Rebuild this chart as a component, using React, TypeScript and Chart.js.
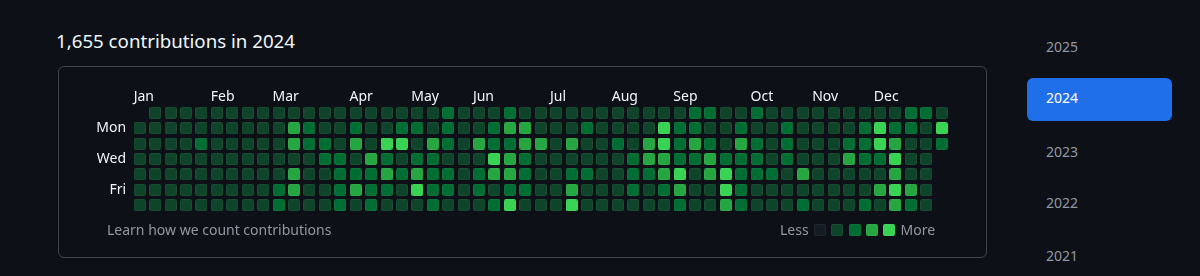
import React, { useEffect, useRef } from 'react';
import { Chart, registerables } from 'chart.js';

Chart.register(...registerables);

const TITLE = '1,655 contributions in 2024';
const FOOTER = 'Learn how we count contributions';
const MONTHS = ['Jan', 'Feb', 'Mar', 'Apr', 'May', 'Jun', 'Jul', 'Aug', 'Sep', 'Oct', 'Nov', 'Dec'];
const MONTH_WEEKS = [0, 5, 9, 14, 18, 22, 27, 31, 35, 40, 44, 48];
const DAY_LABELS = ['Sun', 'Mon', 'Tue', 'Wed', 'Thu', 'Fri', 'Sat'];
const DAY_TICKS = [1, 3, 5];
const YEARS = ['2025', '2024', '2023', '2022', '2021'];
const SELECTED_YEAR = '2024';
const LEVEL_COLORS = ['#151b23', '#0e4429', '#006d32', '#26a641', '#39d353'];
const LEVELS = [1, 2, 3, 4];

// contribution level per week (index 0..52) for each weekday; null = no day
const SUN = [null, 1, 1, 1, 1, 1, 1, 1, 1, 1, 1, 1, 1, 1, 1, 1, 1, 1, 1, 1, 2, 1, 1, 1, 2, 1, 1, 1, 1, 1, 1, 1, 1, 1, 1, 1, 2, 2, 1, 1, 2, 1, 1, 1, 1, 1, 1, 1, 1, 1, 2, 2, 1];
const MON = [1, 1, 1, 1, 1, 1, 1, 1, 1, 1, 3, 2, 1, 1, 2, 1, 1, 2, 2, 1, 2, 1, 1, 2, 3, 3, 1, 1, 1, 2, 1, 1, 1, 1, 4, 2, 2, 1, 1, 2, 1, 1, 2, 1, 1, 1, 1, 2, 4, 2, 2, 1, 4];
const TUE = [1, 1, 1, 1, 2, 1, 1, 1, 1, 1, 3, 2, 2, 1, 3, 1, 4, 4, 1, 3, 2, 1, 3, 2, 2, 3, 3, 1, 3, 1, 1, 2, 1, 3, 4, 2, 3, 2, 1, 3, 2, 1, 2, 1, 1, 1, 2, 2, 4, 3, 1, 1, 2];
const WED = [1, 1, 1, 1, 1, 1, 1, 1, 1, 1, 1, 1, 2, 2, 1, 3, 2, 1, 2, 2, 1, 1, 1, 4, 3, 2, 1, 1, 1, 1, 1, 1, 2, 3, 3, 2, 2, 3, 2, 2, 2, 1, 2, 1, 1, 1, 3, 2, 2, 4, 1, 1, null];
const THU = [1, 1, 1, 1, 1, 1, 1, 1, 1, 1, 3, 1, 1, 2, 2, 2, 3, 2, 3, 2, 2, 1, 2, 3, 3, 2, 1, 1, 2, 2, 1, 1, 2, 2, 3, 4, 1, 3, 4, 2, 2, 2, 1, 3, 1, 1, 1, 1, 1, 3, 1, 1, null];
const FRI = [1, 1, 1, 1, 1, 1, 1, 1, 1, 2, 3, 1, 1, 2, 3, 2, 2, 1, 4, 2, 2, 1, 2, 1, 2, 2, 1, 1, 3, 1, 1, 1, 2, 1, 2, 3, 1, 1, 4, 2, 1, 1, 1, 1, 1, 1, 1, 1, 3, 4, 3, 1, null];
const SAT = [1, 1, 1, 1, 1, 1, 1, 1, 1, 2, 1, 1, 1, 2, 1, 2, 1, 1, 1, 2, 1, 1, 1, 2, 4, 1, 1, 1, 4, 1, 1, 1, 1, 1, 1, 2, 1, 1, 3, 2, 1, 1, 1, 2, 1, 1, 1, 2, 1, 3, 2, 1, null];
const WEEKDAY_ROWS = [SUN, MON, TUE, WED, THU, FRI, SAT];

const FONT = "'Noto Sans', sans-serif";
const TEXT = '#f0f6fc';
const MUTED = '#9198a1';

function makeCell(color: string, size = 12, r = 2) {
  const c = document.createElement('canvas');
  c.width = size;
  c.height = size;
  const ctx = c.getContext('2d')!;
  ctx.fillStyle = color;
  ctx.beginPath();
  ctx.roundRect(0, 0, size, size, r);
  ctx.fill();
  ctx.strokeStyle = 'rgba(255,255,255,0.05)';
  ctx.lineWidth = 1;
  ctx.beginPath();
  ctx.roundRect(0.5, 0.5, size - 1, size - 1, r - 0.5);
  ctx.stroke();
  return c;
}

function Graph() {
  const ref = useRef<HTMLCanvasElement>(null);
  useEffect(() => {
    if (!ref.current) return;
    const datasets = LEVELS.map((level) => ({
      label: 'level ' + level,
      data: WEEKDAY_ROWS.flatMap((row, d) =>
        row
          .map((v, w) => (v === level ? { x: w, y: d } : null))
          .filter((p) => p !== null)
      ),
      pointStyle: makeCell(LEVEL_COLORS[level]),
      pointRadius: 6,
      pointHoverRadius: 6,
    }));
    const chart = new Chart(ref.current, {
      type: 'scatter',
      data: { datasets: datasets as any },
      options: {
        animation: false,
        responsive: false,
        devicePixelRatio: 1,
        events: [],
        layout: { padding: { left: 0, top: 0, right: 50.6, bottom: 17.1 } },
        plugins: { legend: { display: false }, tooltip: { enabled: false } },
        scales: {
          x: {
            type: 'linear',
            position: 'top',
            bounds: 'data',
            min: -0.5,
            max: 52.5,
            grid: { display: false, drawTicks: false },
            border: { display: false },
            afterBuildTicks: (s: any) => {
              s.ticks = MONTH_WEEKS.map((w) => ({ value: w - 0.4 }));
            },
            afterFit: (s: any) => {
              s.height = 105.1;
            },
            ticks: {
              autoSkip: false,
              maxRotation: 0,
              minRotation: 0,
              padding: 0,
              align: 'start',
              color: TEXT,
              font: { family: FONT, size: 14 },
              callback: (_v: any, i: number) => MONTHS[i],
            },
          },
          y: {
            type: 'linear',
            reverse: true,
            bounds: 'data',
            min: -0.5,
            max: 6.5,
            grid: { display: false, drawTicks: false },
            border: { display: false },
            afterBuildTicks: (s: any) => {
              s.ticks = DAY_TICKS.map((d) => ({ value: d }));
            },
            afterFit: (s: any) => {
              s.width = 132.1;
            },
            ticks: {
              padding: 6,
              color: TEXT,
              font: { family: FONT, size: 14 },
              callback: (v: any) => DAY_LABELS[v],
            },
          },
        },
      } as any,
    });
    return () => chart.destroy();
  }, []);
  return (
    <canvas
      ref={ref}
      width={1000}
      height={230}
      style={{ position: 'absolute', left: 0, top: 0, width: 1000, height: 230, display: 'block' }}
    />
  );
}

const abs = (left: number, top: number, size: number, color: string, extra: any = {}) => ({
  position: 'absolute' as const,
  left,
  top,
  fontSize: size,
  lineHeight: size + 'px',
  color,
  whiteSpace: 'nowrap' as const,
  ...extra,
});

export default function App() {
  const yearTops = [40.4, 91.4, 144.8, 196.4, 249.3];
  return (
    <div style={{ position: 'fixed', inset: 0, background: '#0d1117', fontFamily: FONT, overflow: 'hidden' }}>
      <div style={abs(56, 32.2, 18.7, TEXT)}>{TITLE}</div>
      <div
        style={{
          position: 'absolute',
          left: 58,
          top: 66,
          width: 929,
          height: 192,
          boxSizing: 'border-box',
          border: '1px solid #3d444d',
          borderRadius: 6,
        }}
      />
      <Graph />
      <div style={abs(107, 222.9, 14, MUTED)}>{FOOTER}</div>
      <div style={abs(780, 222.9, 14, MUTED)}>Less</div>
      {LEVEL_COLORS.map((c, i) => (
        <div
          key={i}
          style={{
            position: 'absolute',
            left: 814 + i * 17.3,
            top: 224,
            width: 12,
            height: 12,
            borderRadius: 2,
            background: c,
            boxShadow: 'inset 0 0 0 1px rgba(255,255,255,0.05)',
          }}
        />
      ))}
      <div style={abs(900.5, 222.9, 14, MUTED)}>More</div>
      <div
        style={{
          position: 'absolute',
          left: 1027,
          top: 78,
          width: 145,
          height: 43,
          borderRadius: 6,
          background: '#1f6feb',
        }}
      />
      {YEARS.map((y, i) => (
        <div key={y} style={abs(1046, yearTops[i], 14, y === SELECTED_YEAR ? '#ffffff' : MUTED)}>
          {y}
        </div>
      ))}
    </div>
  );
}
